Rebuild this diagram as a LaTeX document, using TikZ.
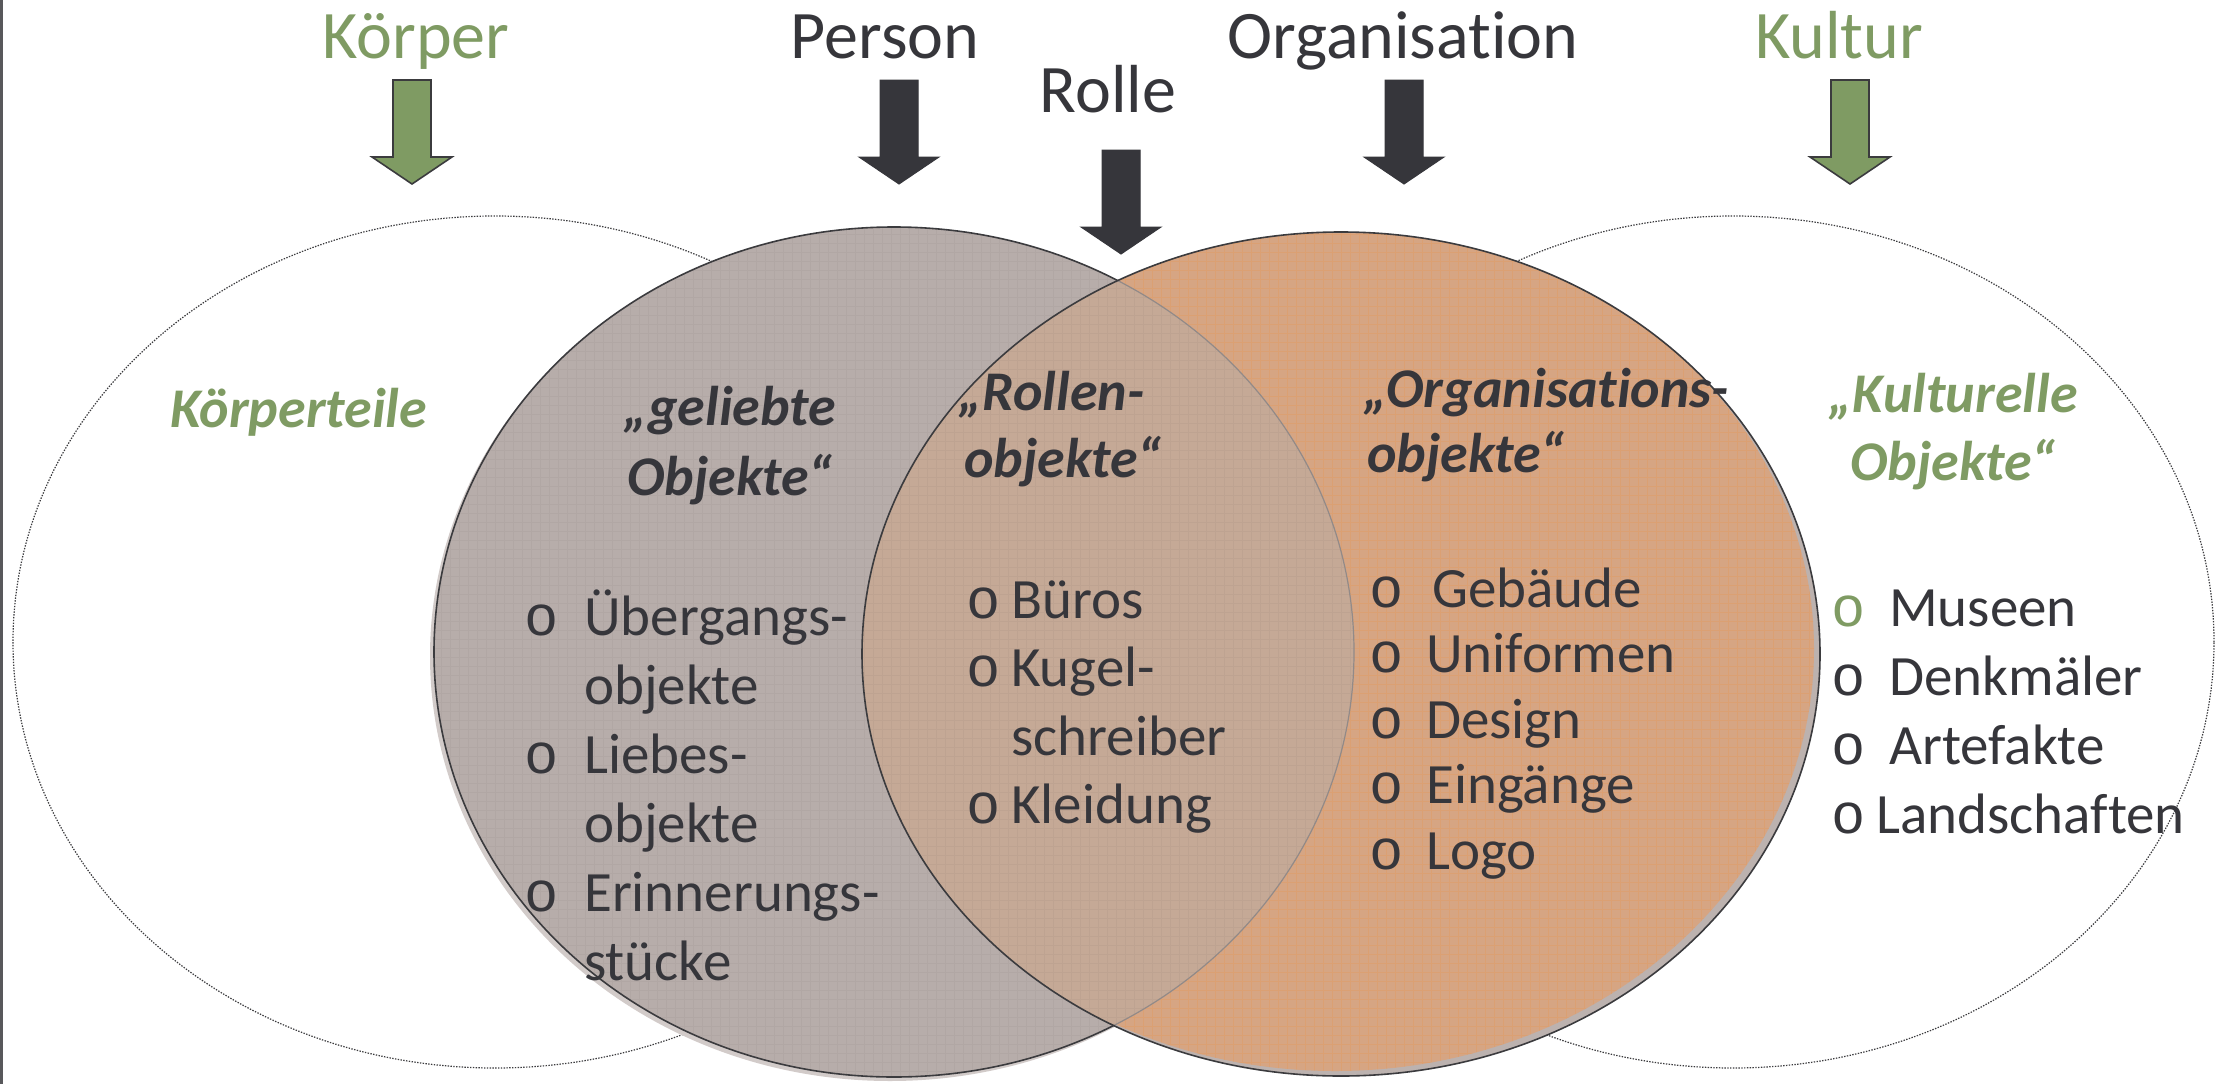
\documentclass[tikz,border=0pt]{standalone}
\usepackage{fontspec}
\setmainfont{Carlito}[Ligatures=NoCommon]
\newfontfamily\bulletfont{Liberation Mono}
\definecolor{inkdark}{HTML}{36363B}
\definecolor{leaf}{HTML}{7F9B63}
\definecolor{greyfill}{HTML}{B7ADAA}
\definecolor{greyrim}{HTML}{D2CBC9}
\definecolor{orangefill}{HTML}{D6A583}
\definecolor{orangerim}{HTML}{BCB2AF}
\definecolor{overlapfill}{HTML}{C5A996}
\definecolor{rimline}{HTML}{3B3B3E}
\newcommand\bul{{\bulletfont o}}
\newcommand\bulgreen{{\bulletfont\color{leaf}o}}
\tikzset{
  toplabel/.style={font=\fontsize{68}{80}\selectfont, anchor=base, inner sep=0pt},
  headline/.style={font=\fontsize{56}{68}\selectfont\bfseries\itshape, inner sep=0pt, text=inkdark},
  itemlist/.style={font=\fontsize{57}{69}\selectfont, inner sep=0pt, anchor=base west, align=left, text=inkdark},
  outerring/.style={draw=rimline, line width=1.2pt, dash pattern=on 1.4pt off 1.4pt},
  blockarrow/.pic={\path[pic actions] (-19,0) -- (19,0) -- (19,77) -- (40,77) -- (0,104) -- (-40,77) -- (-19,77) -- cycle;},
  greenarrow/.style={fill=leaf, draw=rimline, line width=1.6pt},
  darkarrow/.style={fill=inkdark, draw=inkdark, line width=1pt},
}
\begin{document}
\begin{tikzpicture}[x=1pt,y=-1pt]
\useasboundingbox (0,0) rectangle (2216,1084);
\fill[white] (0,0) rectangle (2216,1084);
\draw[rimline!85, line width=2.6pt] (1.3,0) -- (1.3,1084);

% centres of the four sets
\coordinate (cKoerper) at (495,642);
\coordinate (cKultur) at (1733,642);
\coordinate (cPerson) at (894,652);
\coordinate (cOrga) at (1341,654);

% outer dotted sets
\draw[outerring] (cKoerper) ellipse [x radius=482pt, y radius=426pt];
\draw[outerring] (cKultur) ellipse [x radius=481pt, y radius=426pt];

% person set with a light rim
\fill[greyrim] ([shift={(-4,4)}]cPerson) ellipse [x radius=460pt, y radius=425pt];
\fill[greyfill] (cPerson) ellipse [x radius=460pt, y radius=425pt];
\begin{scope}
  \clip (cPerson) ellipse [x radius=460pt, y radius=425pt];
  \draw[step=9pt, line width=0.5pt, color=greyfill!88!black, opacity=0.25] (420,220) grid (1370,1084);
\end{scope}
\draw[rimline, line width=1.6pt] (cPerson) ellipse [x radius=460pt, y radius=425pt];

% organisation set: rim crescent at lower right, fill shifted up-left
\fill[orangerim] (cOrga) ellipse [x radius=479pt, y radius=422pt];
\begin{scope}
  \clip (cOrga) ellipse [x radius=479pt, y radius=422pt];
  \fill[orangefill] ([shift={(-6,-5)}]cOrga) ellipse [x radius=479pt, y radius=422pt];
  \begin{scope}
    \clip ([shift={(-6,-5)}]cOrga) ellipse [x radius=479pt, y radius=422pt];
    \draw[step=9pt, line width=0.5pt, color=orange!60!orangefill, opacity=0.2] (850,220) grid (1830,1084);
  \end{scope}
  % overlap of person and organisation
  \begin{scope}
    \clip (cPerson) ellipse [x radius=460pt, y radius=425pt];
    \fill[overlapfill] (cOrga) ellipse [x radius=479pt, y radius=422pt];
    \draw[step=9pt, line width=0.5pt, color=overlapfill!85!black, opacity=0.22] (850,220) grid (1370,1084);
  \end{scope}
  \draw[greyfill!80!black, line width=1.2pt] (cPerson) ellipse [x radius=460pt, y radius=425pt];
\end{scope}
\draw[rimline, line width=1.6pt] (cOrga) ellipse [x radius=479pt, y radius=422pt];

% labels above the sets
\node[toplabel, text=leaf] (lKoerper) at (416,58) {Körper};
\node[toplabel, text=inkdark] (lPerson) at (885,58) {Person};
\node[toplabel, text=inkdark] (lRolle) at (1108,112) {Rolle};
\node[toplabel, text=inkdark] (lOrga) at (1403,58) {Organisation};
\node[toplabel, text=leaf] (lKultur) at (1839,58) {Kultur};

% block arrows pointing into the sets
\pic[greenarrow] (aKoerper) at (412,80) {blockarrow};
\pic[darkarrow] (aPerson) at (899,80) {blockarrow};
\pic[darkarrow] (aRolle) at (1121,150) {blockarrow};
\pic[darkarrow] (aOrga) at (1404,80) {blockarrow};
\pic[greenarrow] (aKultur) at (1850,80) {blockarrow};

% headings inside the sets (multi-line nodes sit on their last baseline)
\node[headline, text=leaf, anchor=base west] (hKoerper) at (170,427) {Körperteile};
\node[headline, anchor=base, align=center, font=\fontsize{56}{70}\selectfont\bfseries\itshape] (hPerson) at (730,495) {„geliebte\\Objekte“};
\node[headline, anchor=base west, align=left, font=\fontsize{56}{67}\selectfont\bfseries\itshape] (hRolle) at (958,477) {„Rollen-\\\hspace*{6pt}objekte“};
\node[headline, anchor=base west, align=left, font=\fontsize{56}{65}\selectfont\bfseries\itshape] (hOrga) at (1363,472) {„Organisations-\\\hspace*{4pt}objekte“};
\node[headline, text=leaf, anchor=base, align=center] (hKultur) at (1953,480) {„Kulturelle\\Objekte“};

% item lists
\node[itemlist] (iPerson) at (524,980) {%
  \makebox[60pt][l]{\bul}Übergangs-\\
  \hspace*{60pt}objekte\\
  \makebox[60pt][l]{\bul}Liebes-\\
  \hspace*{60pt}objekte\\
  \makebox[60pt][l]{\bul}Erinnerungs-\\
  \hspace*{60pt}stücke};
\node[itemlist, font=\fontsize{57}{68.5}\selectfont] (iRolle) at (966,823.5) {%
  \makebox[45pt][l]{\bul}Büros\\
  \makebox[45pt][l]{\bul}Kugel-\\
  \hspace*{45pt}schreiber\\
  \makebox[45pt][l]{\bul}Kleidung};
\node[itemlist, font=\fontsize{57}{65.5}\selectfont] (iOrga) at (1369,869) {%
  \makebox[63pt][l]{\bul}Gebäude\\
  \makebox[57pt][l]{\bul}Uniformen\\
  \makebox[57pt][l]{\bul}Design\\
  \makebox[57pt][l]{\bul}Eingänge\\
  \makebox[57pt][l]{\bul}Logo};
\node[itemlist, font=\fontsize{57}{68.7}\selectfont] (iKultur) at (1831,833) {%
  \makebox[58pt][l]{\bulgreen}Museen\\
  \makebox[58pt][l]{\bul}Denkmäler\\
  \makebox[58pt][l]{\bul}Artefakte\\
  \makebox[45pt][l]{\bul}Landschaften};
\end{tikzpicture}
\end{document}
